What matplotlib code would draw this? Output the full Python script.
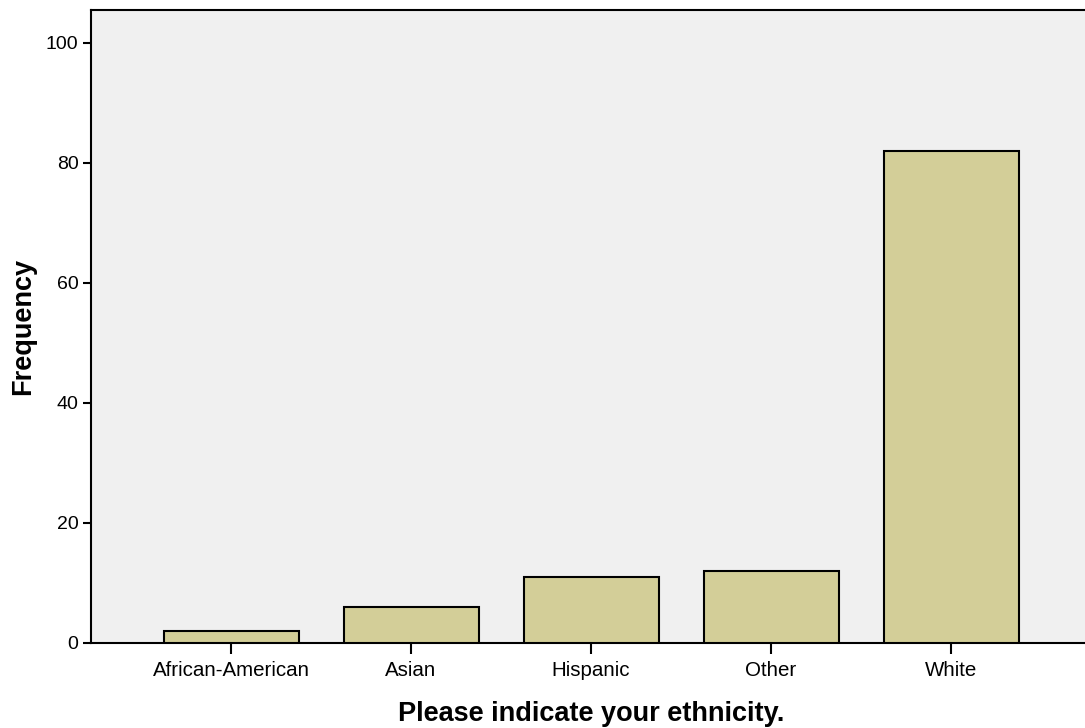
import matplotlib.pyplot as plt

categories = ["African-American", "Asian", "Hispanic", "Other", "White"]
frequency = [2, 6, 11, 12, 82]

plt.rcParams['font.family'] = ['Liberation Sans', 'DejaVu Sans']

fig = plt.figure(figsize=(10.85, 7.28), dpi=100)
ax = fig.add_axes([0.0839, 0.1168, 0.9217, 0.8695])
ax.set_facecolor("#f0f0f0")

x = range(len(categories))
ax.bar(x, frequency, width=0.75, color="#d3ce98", edgecolor="black", linewidth=1.5, zorder=3)

ax.set_xlim(-0.778, 4.778)
ax.set_ylim(0, 105.5)
ax.set_xticks(list(x))
ax.set_xticklabels(categories)
ax.set_yticks([0, 20, 40, 60, 80, 100])

for s in ["top", "left", "bottom"]:
    ax.spines[s].set_linewidth(1.5)
ax.spines["right"].set_visible(False)

ax.tick_params(axis="x", length=8, width=1.5, labelsize=14.8, pad=5)
ax.tick_params(axis="y", length=6, width=1.5, labelsize=14, pad=3)

ax.set_xlabel("Please indicate your ethnicity.", fontsize=19.5, fontweight="bold", labelpad=15)
ax.set_ylabel("Frequency", fontsize=19.5, fontweight="bold")
ax.yaxis.set_label_coords(-0.055, 0.5)

fig.savefig("out.png", dpi=100)
